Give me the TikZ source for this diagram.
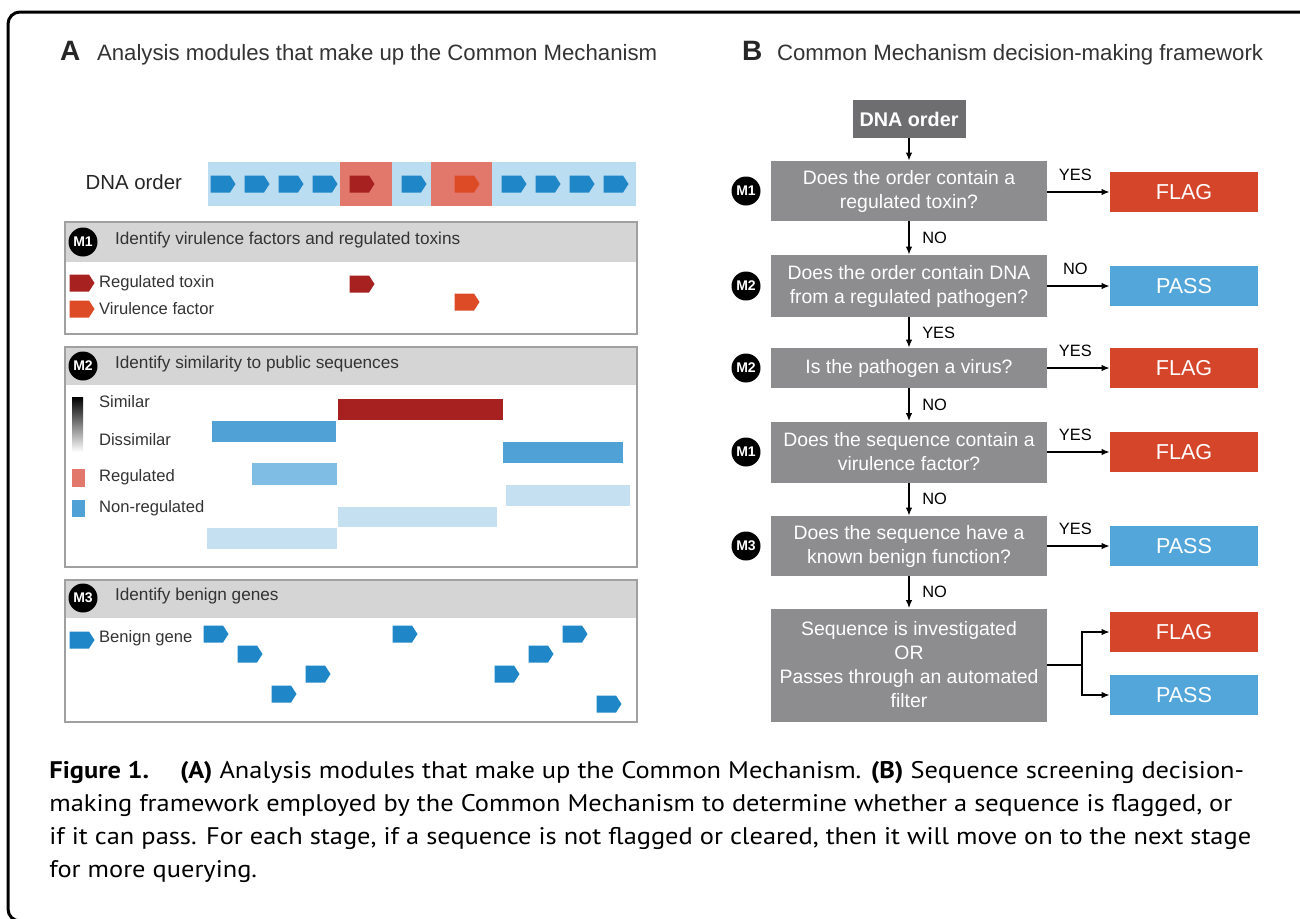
\documentclass[tikz,border=0pt]{standalone}
\usepackage{fontspec}
\setmainfont{Liberation Sans}
\newfontfamily\capfont[FakeStretch=1.1]{PT Sans}
\usepackage{tikz}
\usetikzlibrary{arrows.meta}

\definecolor{geneblue}{HTML}{1F86C8}
\definecolor{barback}{HTML}{BBDDF1}
\definecolor{hitred}{HTML}{E2776C}
\definecolor{toxinred}{HTML}{A6211F}
\definecolor{virorange}{HTML}{DC4A26}
\definecolor{headgray}{HTML}{D5D5D5}
\definecolor{framegray}{HTML}{A0A0A0}
\definecolor{qgray}{HTML}{8D8D8F}
\definecolor{startgray}{HTML}{6E6E70}
\definecolor{flagred}{HTML}{D4452A}
\definecolor{passblue}{HTML}{52A6DA}
\definecolor{simblue}{HTML}{4FA1D6}
\definecolor{midblue}{HTML}{80BDE4}
\definecolor{paleblue}{HTML}{C4E0F1}

\begin{document}
\begin{tikzpicture}[x=0.5pt, y=-0.5pt, >={Latex[length=4pt,width=3.2pt]},
    gene/.pic={\fill (-12.5,-8.5) -- (7,-8.5) -- (12.5,0) -- (7,8.5) -- (-12.5,8.5) -- cycle;},
    panel/.style={draw=framegray, line width=0.8pt},
    mbadge/.style={circle, fill=black, text=white, inner sep=0pt, minimum size=14.5pt, font=\bfseries\fontsize{7}{8}\selectfont},
    ptext/.style={anchor=west, text=black!80, font=\fontsize{8.3}{9}\selectfont},
    htext/.style={anchor=west, text=black!80, font=\fontsize{8.6}{9}\selectfont},
    question/.style={fill=qgray, text=white, minimum width=138pt, align=center, inner sep=0pt, font=\fontsize{9.7}{12}\selectfont},
    outcome/.style={minimum width=74pt, minimum height=20pt, inner sep=0pt, text=white, font=\fontsize{10.8}{12}\selectfont},
    flag/.style={outcome, fill=flagred},
    pass/.style={outcome, fill=passblue},
    lbl/.style={font=\fontsize{8.2}{9}\selectfont},
    arr/.style={->, line width=0.6pt}]
\useasboundingbox (0,0) rectangle (1300,918);

% outer frame
\begin{scope}
    \clip (0,0) rectangle (1300,918);
    \draw[line width=1.5pt, rounded corners=6pt] (8,12) rectangle (1340,921);
\end{scope}

% panel titles
\node[anchor=base west, font=\bfseries\fontsize{14}{15}\selectfont, text=black!85] (titleA) at (53,60) {A};
\node[anchor=base west, font=\fontsize{11.1}{12}\selectfont, text=black!80] (titleAtxt) at (90,60) {Analysis modules that make up the Common Mechanism};
\node[anchor=base west, font=\bfseries\fontsize{14}{15}\selectfont, text=black!85] (titleB) at (735,60) {B};
\node[anchor=base west, font=\fontsize{11.1}{12}\selectfont, text=black!80] (titleBtxt) at (770,60) {Common Mechanism decision-making framework};

% DNA order bar
\node[anchor=east, text=black!85, font=\fontsize{10.2}{12}\selectfont] (dnalabel) at (189,182) {DNA order};
\fill[barback] (208,162) rectangle (636,206);
\fill[hitred] (340,162) rectangle (392,206);
\fill[hitred] (431,162) rectangle (492,206);
\foreach \gx in {223,257,291,325,414,514,548,582,616}
{
    \pic[fill=geneblue] at (\gx,184) {gene};
}
\pic[fill=toxinred] at (362,184) {gene};
\pic[fill=virorange] at (467,184) {gene};

% M1 panel
\fill[headgray] (65,222) rectangle (637,262);
\draw[panel] (65,222) rectangle (637,334);
\node[mbadge] (badgeA1) at (83,242) {M1};
\node[htext] (headA1) at (108,240) {Identify virulence factors and regulated toxins};
\pic[fill=toxinred] at (82,283) {gene};
\node[ptext] (legtoxin) at (92,283) {Regulated toxin};
\pic[fill=virorange] at (82,309) {gene};
\node[ptext] (legvir) at (92,309) {Virulence factor};
\pic[fill=toxinred] at (362,284) {gene};
\pic[fill=virorange] at (467,302) {gene};

% M2 panel
\fill[headgray] (65,347) rectangle (637,385);
\draw[panel] (65,347) rectangle (637,567);
\node[mbadge] (badgeA2) at (83,366) {M2};
\node[htext] (headA2) at (108,364) {Identify similarity to public sequences};
\shade[top color=black, bottom color=white] (72,397) rectangle (83,452);
\node[ptext] (legsim) at (92,402) {Similar};
\node[ptext] (legdis) at (92,440) {Dissimilar};
\fill[hitred] (72,469) rectangle (85,487);
\node[ptext] (legreg) at (92,477) {Regulated};
\fill[simblue] (72,500) rectangle (85,517);
\node[ptext] (legnonreg) at (92,508) {Non-regulated};
\foreach \xa/\ya/\xb/\yb/\col in {338/399/503/420/toxinred, 212/421/336/442/simblue,
    503/442/623/463/simblue, 252/463/337/485/midblue, 506/485/630/506/paleblue,
    338/507/497/527/paleblue, 207/528/337/549/paleblue}
{
    \fill[\col] (\xa,\ya) rectangle (\xb,\yb);
}

% M3 panel
\fill[headgray] (65,580) rectangle (637,618);
\draw[panel] (65,580) rectangle (637,722);
\node[mbadge] (badgeA3) at (83,598) {M3};
\node[htext] (headA3) at (108,596) {Identify benign genes};
\pic[fill=geneblue] at (82,640) {gene};
\node[ptext] (legbenign) at (92,638) {Benign gene};
\foreach \gx/\gy in {216/634, 250/654, 318/674, 284/694, 405/634, 507/674, 541/654, 575/634, 609/704}
{
    \pic[fill=geneblue] at (\gx,\gy) {gene};
}

% decision framework
\node[fill=startgray, text=white, minimum width=56.5pt, minimum height=19pt, inner sep=0pt, font=\bfseries\fontsize{9.9}{12}\selectfont] (order) at (909,119) {DNA order};
\node[question, minimum height=30pt] (q1) at (909,191) {Does the order contain a\\regulated toxin?};
\node[question, minimum height=31pt] (q2) at (909,286) {Does the order contain DNA\\from a regulated pathogen?};
\node[question, minimum height=20pt] (q3) at (909,368) {Is the pathogen a virus?};
\node[question, minimum height=30.5pt] (q4) at (909,452) {Does the sequence contain a\\virulence factor?};
\node[question, minimum height=30pt] (q5) at (909,546) {Does the sequence have a\\known benign function?};
\node[question, minimum height=56.5pt] (q6) at (909,665) {Sequence is investigated\\OR\\Passes through an automated\\filter};

\node[mbadge] (badge1) at (746,191) {M1};
\node[mbadge] (badge2) at (746,286) {M2};
\node[mbadge] (badge3) at (746,368) {M2};
\node[mbadge] (badge4) at (746,452) {M1};
\node[mbadge] (badge5) at (746,546) {M3};

\node[flag] (out1) at (1184,192) {FLAG};
\node[pass] (out2) at (1184,286) {PASS};
\node[flag] (out3) at (1184,368) {FLAG};
\node[flag] (out4) at (1184,452) {FLAG};
\node[pass] (out5) at (1184,546) {PASS};
\node[flag] (out6) at (1184,632) {FLAG};
\node[pass] (out7) at (1184,695) {PASS};

% connections
\draw[arr] (order) -- (q1);
\draw[arr] (q1) -- node[lbl, right=3pt] {NO} (q2);
\draw[arr] (q2) -- node[lbl, right=3pt] {YES} (q3);
\draw[arr] (q3) -- node[lbl, right=3pt] {NO} (q4);
\draw[arr] (q4) -- node[lbl, right=3pt] {NO} (q5);
\draw[arr] (q5) -- node[lbl, right=3pt] {NO} (q6);
\draw[arr] (q1.east |- out1) -- node[lbl, above=2pt, pos=0.45] {YES} (out1);
\draw[arr] (q2) -- node[lbl, above=2pt, pos=0.45] {NO} (out2);
\draw[arr] (q3) -- node[lbl, above=2pt, pos=0.45] {YES} (out3);
\draw[arr] (q4) -- node[lbl, above=2pt, pos=0.45] {YES} (out4);
\draw[arr] (q5) -- node[lbl, above=2pt, pos=0.45] {YES} (out5);
\coordinate (split) at (1082,665);
\draw[line width=0.6pt] (q6) -- (split);
\draw[arr] (split) |- (out6);
\draw[arr] (split) |- (out7);

% caption
\node[anchor=north west, align=left, inner sep=0pt, font=\capfont\fontsize{12}{16.5}\selectfont] (caption) at (49,761)
{\textbf{Figure 1.}\quad\ \textbf{(A)} Analysis modules that make up the Common Mechanism. \textbf{(B)} Sequence screening decision-\\
making framework employed by the Common Mechanism to determine whether a sequence is flagged, or\\
if it can pass. For each stage, if a sequence is not flagged or cleared, then it will move on to the next stage\\
for more querying.};

\end{tikzpicture}
\end{document}
